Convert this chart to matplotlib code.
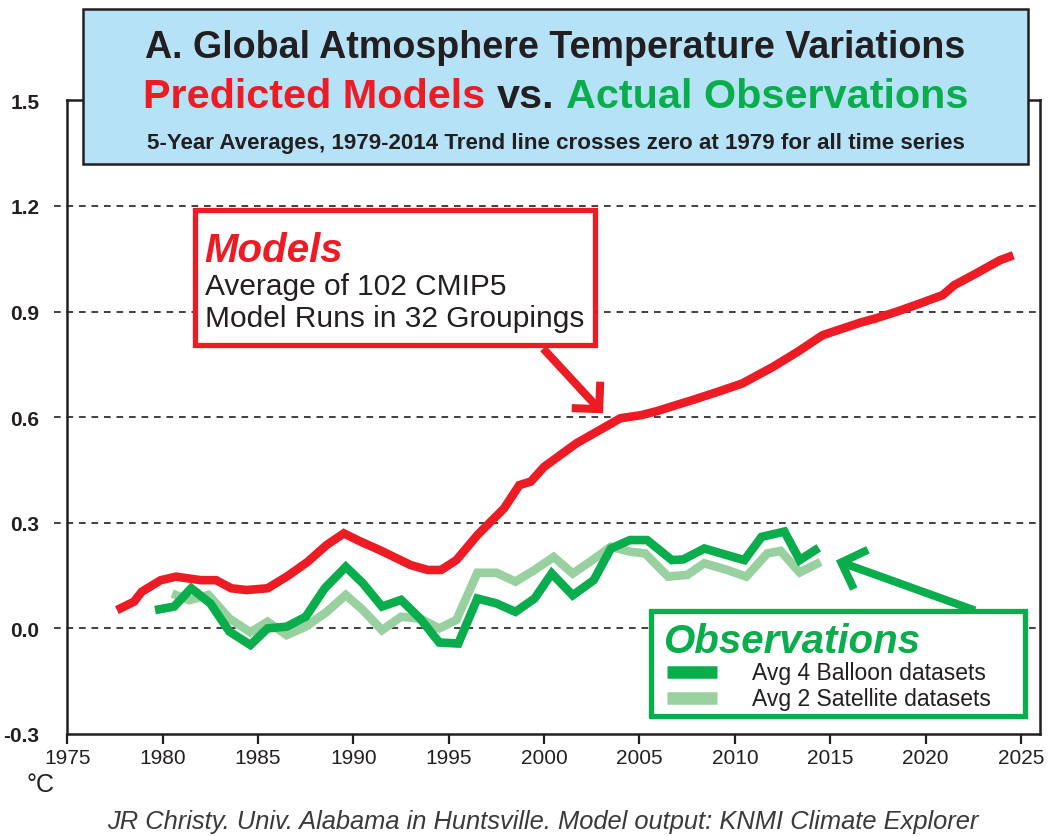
import matplotlib
matplotlib.use("Agg")
import matplotlib.pyplot as plt
from matplotlib.patches import Rectangle
from matplotlib import font_manager

# ---- data (5-year averages, deg C) ----
model_years = [1977.6, 1978.5, 1978.9, 1979.9, 1980.7, 1982.0, 1982.8, 1983.6, 1984.4, 1985.5,
               1986.5, 1987.6, 1988.6, 1989.5, 1990.4, 1991.4, 1993.0, 1993.9, 1994.6, 1995.4,
               1996.5, 1997.9, 1998.7, 1999.3, 2000.0, 2001.7, 2002.9, 2004.0, 2005.1, 2005.9,
               2006.9, 2007.8, 2009.1, 2010.4, 2012.0, 2013.3, 2014.6, 2016.6, 2017.4, 2018.5,
               2019.7, 2020.9, 2021.5, 2022.5, 2023.9, 2024.6]
model_vals = [0.052, 0.076, 0.104, 0.137, 0.147, 0.137, 0.137, 0.114, 0.109, 0.114,
              0.147, 0.189, 0.237, 0.270, 0.246, 0.222, 0.180, 0.166, 0.166, 0.194,
              0.265, 0.341, 0.407, 0.417, 0.459, 0.526, 0.563, 0.597, 0.606, 0.617,
              0.634, 0.649, 0.672, 0.696, 0.743, 0.786, 0.833, 0.869, 0.881, 0.900,
              0.923, 0.947, 0.975, 1.004, 1.046, 1.060]

balloon_years = [1979.6, 1980.6, 1981.5, 1982.5, 1983.5, 1984.6, 1985.5, 1986.5, 1987.5, 1988.5,
                 1989.6, 1990.5, 1991.5, 1992.5, 1993.5, 1994.5, 1995.5, 1996.5, 1997.5, 1998.5,
                 1999.5, 2000.4, 2001.5, 2002.6, 2003.5, 2004.5, 2005.4, 2006.7, 2007.3, 2008.4,
                 2009.6, 2010.5, 2011.4, 2012.6, 2013.4, 2014.4]
balloon_vals = [0.052, 0.062, 0.114, 0.071, -0.009, -0.047, 0.000, 0.005, 0.033, 0.114,
                0.175, 0.128, 0.062, 0.081, 0.028, -0.040, -0.043, 0.085, 0.071, 0.047,
                0.085, 0.156, 0.094, 0.137, 0.227, 0.251, 0.251, 0.194, 0.196, 0.227,
                0.208, 0.194, 0.260, 0.275, 0.194, 0.229]

sat_years = [1980.5, 1981.4, 1982.4, 1983.5, 1984.6, 1985.5, 1986.5, 1987.5, 1988.6, 1989.6,
             1990.5, 1991.5, 1992.5, 1993.5, 1994.5, 1995.4, 1996.5, 1997.5, 1998.5, 1999.5,
             2000.5, 2001.5, 2002.4, 2003.5, 2004.5, 2005.3, 2006.5, 2007.5, 2008.4, 2009.6,
             2010.6, 2011.7, 2012.4, 2013.4, 2014.5]
sat_vals = [0.099, 0.080, 0.095, 0.028, -0.011, 0.019, -0.019, 0.005, 0.047, 0.095,
            0.052, -0.005, 0.033, 0.028, 0.000, 0.024, 0.158, 0.158, 0.133, 0.166,
            0.203, 0.156, 0.189, 0.232, 0.218, 0.213, 0.147, 0.152, 0.185, 0.166,
            0.147, 0.213, 0.220, 0.159, 0.189]

x_ticks = [1975, 1980, 1985, 1990, 1995, 2000, 2005, 2010, 2015, 2020, 2025]
y_ticks = [-0.3, 0.0, 0.3, 0.6, 0.9, 1.2, 1.5]
grid_vals = [0.0, 0.3, 0.6, 0.9, 1.2]

RED = '#ed1c24'
GREEN = '#0aad4b'
LIGHT = '#98d19f'
BLUE = '#b5e2f7'
INK = '#231f20'

names = {f.name for f in font_manager.fontManager.ttflist}
SANS = 'Liberation Sans'
COND = 'Liberation Sans Narrow' if 'Liberation Sans Narrow' in names else SANS

W, H = 1055, 837
fig = plt.figure(figsize=(W / 100, H / 100), dpi=100)
ax = fig.add_axes([67.3 / W, 1 - 735 / H, (1040 - 67.3) / W, (735 - 101.4) / H])
ax.set_xlim(1975, 2026)
ax.set_ylim(-0.3, 1.5)

for s in ax.spines.values():
    s.set_linewidth(1.8)
    s.set_color(INK)

ax.set_xticks(x_ticks)
ax.set_xticklabels([str(v) for v in x_ticks], family=SANS, fontsize=15, color=INK)
ax.set_yticks(y_ticks)
ax.set_yticklabels(['%.1f' % v for v in y_ticks], family=SANS, fontsize=15,
                   fontweight='bold', color=INK)
ax.tick_params(axis='x', direction='out', length=7, width=1.6, pad=3, color=INK)
ax.tick_params(axis='y', length=0, pad=20)

# dashed grid, poking a little left of the spine like the original
for v in grid_vals:
    ax.plot([-0.014, 1], [v, v], transform=ax.get_yaxis_transform(), clip_on=False,
            color=INK, lw=1.2, dashes=(4, 3.5), zorder=1)

ax.plot(sat_years, sat_vals, color=LIGHT, lw=6.2, solid_joinstyle='miter',
        solid_capstyle='butt', zorder=2)
ax.plot(balloon_years, balloon_vals, color=GREEN, lw=6.2, solid_joinstyle='miter',
        solid_capstyle='butt', zorder=3)
ax.plot(model_years, model_vals, color=RED, lw=6.2, solid_joinstyle='miter',
        solid_capstyle='butt', zorder=3)

# ---- Models callout ----
ax.add_patch(Rectangle((1981.67, 0.804), 2002.65 - 1981.67, 1.189 - 0.804,
                       fc='white', ec=RED, lw=3.8, zorder=4, joinstyle='miter'))
ax.text(1982.2, 1.045, 'Models', color=RED, family=SANS, fontsize=29,
        fontweight='bold', style='italic', zorder=5)
ax.text(1982.2, 0.949, 'Average of 102 CMIP5', color=INK, family=SANS, fontsize=21.5, zorder=5)
ax.text(1982.2, 0.858, 'Model Runs in 32 Groupings', color=INK, family=SANS, fontsize=21.5, zorder=5)
ax.annotate('', xy=(2003.09, 0.611), xytext=(1999.95, 0.795),
            arrowprops=dict(arrowstyle='->,head_length=14,head_width=14', mutation_scale=1,
                            lw=5.8, color=RED, shrinkA=0, shrinkB=0,
                            capstyle='butt', joinstyle='miter'), zorder=4)

# ---- Observations callout ----
ax.add_patch(Rectangle((2005.6, -0.2486), 2025.19 - 2005.6, 0.0497 + 0.2486,
                       fc='white', ec=GREEN, lw=3.8, zorder=4, joinstyle='miter'))
ax.text(2006.24, -0.068, 'Observations', color=GREEN, family=SANS, fontsize=29,
        fontweight='bold', style='italic', zorder=5)
ax.plot([2006.45, 2009.07], [-0.125, -0.125], color=GREEN, lw=9, solid_capstyle='butt', zorder=5)
ax.plot([2006.45, 2009.07], [-0.199, -0.199], color=LIGHT, lw=9, solid_capstyle='butt', zorder=5)
ax.text(2010.9, -0.125, 'Avg 4 Balloon datasets', color=INK, family=SANS, fontsize=16.5,
        va='center', zorder=5)
ax.text(2010.9, -0.199, 'Avg 2 Satellite datasets', color=INK, family=SANS, fontsize=16.5,
        va='center', zorder=5)
ax.annotate('', xy=(2015.3, 0.193), xytext=(2022.59, 0.051),
            arrowprops=dict(arrowstyle='->,head_length=15,head_width=15', mutation_scale=1,
                            lw=5.8, color=GREEN, shrinkA=0, shrinkB=0,
                            capstyle='butt', joinstyle='miter'), zorder=3)

# ---- title box ----
fig.add_artist(Rectangle((83 / W, 1 - 165 / H), (1028 - 83) / W, (165 - 10) / H,
                         transform=fig.transFigure, fc=BLUE, ec=INK, lw=1.8, zorder=5))

renderer = fig.canvas.get_renderer()


def fit(t, target):
    bb = t.get_window_extent(renderer)
    t.set_fontsize(t.get_fontsize() * target / bb.width)


t1 = fig.text(555.5 / W, 1 - 48 / H, 'A. Global Atmosphere Temperature Variations',
              ha='center', va='center', family=COND, fontweight='bold', fontsize=28,
              color=INK, zorder=6)
fit(t1, 820)
t3 = fig.text(555.5 / W, 1 - 144 / H,
              '5-Year Averages, 1979-2014 Trend line crosses zero at 1979 for all time series',
              ha='center', va='center', family=COND, fontweight='bold', fontsize=14,
              color=INK, zorder=6)
fit(t3, 821)

parts = [('Predicted Models', RED), ('vs.', INK), ('Actual Observations', GREEN)]
size = 32
pieces = [fig.text(0, 1 - 97 / H, p, family=COND, fontweight='bold', fontsize=size,
                   color=c, va='center', ha='left', zorder=6) for p, c in parts]
widths = [p.get_window_extent(renderer).width for p in pieces]
gap = 0.27 * size * 100 / 72
scale = 825 / (sum(widths) + 2 * gap)
x = 555.5 - 825 / 2
for p, w in zip(pieces, widths):
    p.set_fontsize(size * scale)
    p.set_x(x / W)
    x += (w + gap) * scale

# ---- footer ----
fig.text(40 / W, 1 - 785 / H, '°C', ha='center', va='center', family=SANS, fontsize=18, color=INK)
tf = fig.text(543 / W, 1 - 822 / H,
              'JR Christy. Univ. Alabama in Huntsville. Model output: KNMI Climate Explorer',
              ha='center', va='center', family=COND, style='italic', fontsize=18,
              color='#3a3a3a')
fit(tf, 873)

fig.savefig('out.png', dpi=100)
